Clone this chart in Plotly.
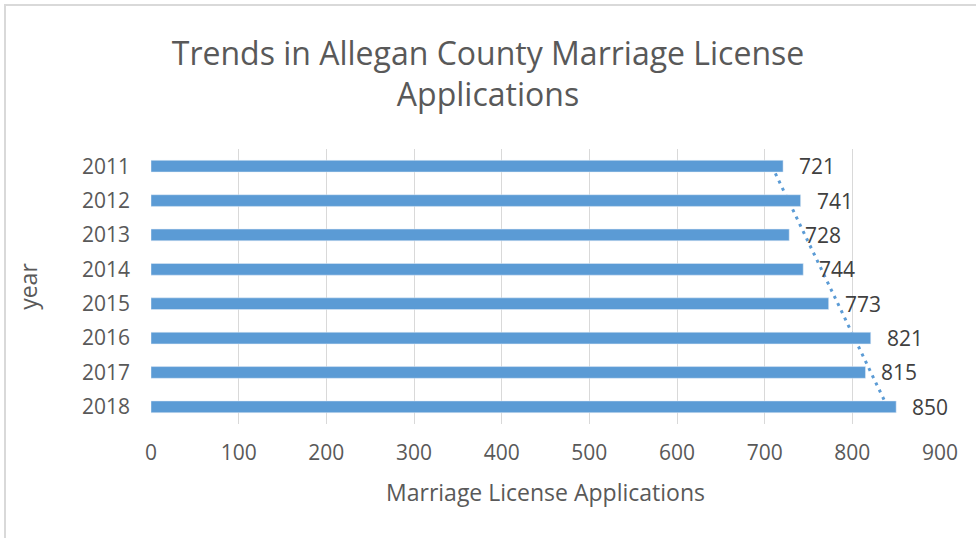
import plotly.graph_objects as go
import numpy as np

years = ["2011", "2012", "2013", "2014", "2015", "2016", "2017", "2018"]
applications = [721, 741, 728, 744, 773, 821, 815, 850]
x_ticks = [0, 100, 200, 300, 400, 500, 600, 700, 800, 900]

# linear trendline (Excel style, category index 1..n)
idx = np.arange(1, len(years) + 1)
slope, intercept = np.polyfit(idx, applications, 1)
trend = slope * idx + intercept

BAR = "#5B9BD5"
TXT = "#595959"
FONT = "Open Sans"

W, H = 976, 538
L, T, R, B = 151, 149, 36, 114

fig = go.Figure()

fig.add_trace(go.Bar(
    x=applications, y=years, orientation="h",
    marker_color=BAR, width=0.34, showlegend=False,
))

# trendline, drawn between the grid and the bars (category index positions)
fig.add_shape(type="line", xref="x", yref="y",
              x0=float(trend[0]), y0=0, x1=float(trend[-1]), y1=len(years) - 1,
              line=dict(color=BAR, width=3, dash="3px,5px"), layer="between")

for i, v in enumerate(applications):
    fig.add_annotation(
        x=v, y=i, xref="x", yref="y", text=str(v), showarrow=False,
        xanchor="left", xshift=14, font=dict(size=21, color="#404040", family=FONT),
    )

fig.update_layout(
    width=W, height=H,
    margin=dict(l=L, r=R, t=T, b=B, autoexpand=False),
    paper_bgcolor="white", plot_bgcolor="white",
    font=dict(family=FONT, color=TXT),
    title=dict(
        text="Trends in Allegan County Marriage License<br>Applications",
        x=0.5, xanchor="center", y=0.88, yanchor="middle",
        font=dict(size=32, color=TXT, family=FONT),
    ),
    xaxis=dict(
        range=[0, 900], tickvals=x_ticks,
        showgrid=True, gridcolor="#D9D9D9", gridwidth=1.3,
        zeroline=False, showline=False, ticks="",
        tickfont=dict(size=21, color=TXT), ticklabelstandoff=14,
        title=dict(text="Marriage License Applications", font=dict(size=23, color=TXT), standoff=19),
    ),
    yaxis=dict(
        type="category", categoryorder="array", categoryarray=years,
        range=[len(years) - 0.5, -0.5], showgrid=False, zeroline=False, showline=False,
        ticks="", tickfont=dict(size=21, color=TXT), ticklabelstandoff=20,
        title=dict(text="year", font=dict(size=23, color=TXT), standoff=37),
    ),
)

# chart-area border (light gray, left and top visible)
pw = W - L - R
ph = H - T - B
fig.add_shape(type="rect", xref="paper", yref="paper",
              x0=(5 - L) / pw, x1=(W + 20 - L) / pw,
              y0=-(B + 20) / ph, y1=(ph + T - 5) / ph,
              line=dict(color="#D9D9D9", width=2), fillcolor="rgba(0,0,0,0)", layer="below")

fig.write_html("out.html", config={"displayModeBar": False},
               post_script="document.body.style.margin='0';")
